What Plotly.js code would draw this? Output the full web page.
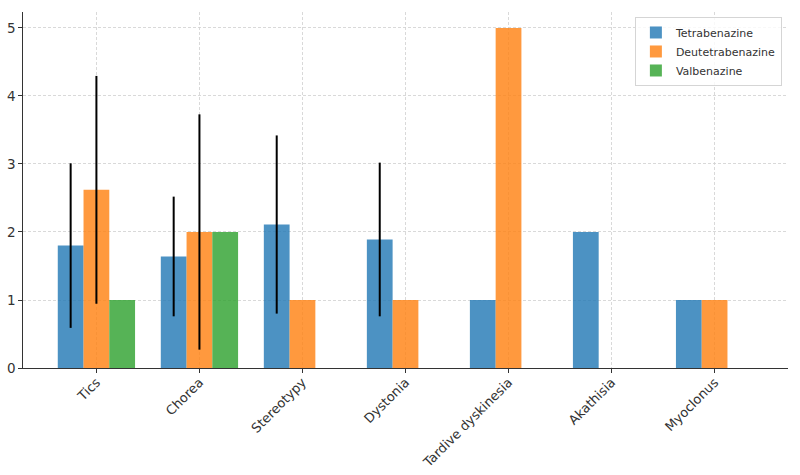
<!DOCTYPE html>
<html>
<head>
<meta charset="utf-8">
<script src="https://cdn.plot.ly/plotly-3.0.1.min.js"></script>
<style>html,body{margin:0;padding:0;background:#fff;}#chart{width:800px;height:475px;}</style>
</head>
<body>
<div id="chart"></div>
<script>
var categories = ["Tics", "Chorea", "Stereotypy", "Dystonia", "Tardive dyskinesia", "Akathisia", "Myoclonus"];
var tetrabenazine = [1.8, 1.64, 2.11, 1.89, 1, 2, 1];
var tetrabenazineErr = [1.21, 0.88, 1.31, 1.13, 0, 0, 0];
var deutetrabenazine = [2.62, 2, 1, 1, 5, 0, 1];
var deutetrabenazineErr = [1.675, 1.73, 0, 0, 0, 0, 0];
var valbenazine = [1, 2, 0, 0, 0, 0, 0];
var yTicks = [0, 1, 2, 3, 4, 5];

var errStyle = function(arr){
  return {type: 'data', array: arr, visible: true, color: '#000000', thickness: 2, width: 0};
};

var traces = [
  {type: 'bar', name: 'Tetrabenazine', x: categories, y: tetrabenazine,
   marker: {color: 'rgba(31,119,180,0.8)', line: {width: 0}}, error_y: errStyle(tetrabenazineErr)},
  {type: 'bar', name: 'Deutetrabenazine', x: categories, y: deutetrabenazine,
   marker: {color: 'rgba(255,127,14,0.8)', line: {width: 0}}, error_y: errStyle(deutetrabenazineErr)},
  {type: 'bar', name: 'Valbenazine', x: categories, y: valbenazine,
   marker: {color: 'rgba(44,160,44,0.8)', line: {width: 0}}}
];

var layout = {
  width: 800, height: 475,
  margin: {l: 23, r: 12, t: 12, b: 107},
  paper_bgcolor: '#ffffff', plot_bgcolor: '#ffffff',
  font: {family: 'DejaVu Sans', size: 13, color: '#000000'},
  barmode: 'group', bargap: 0.25, bargroupgap: 0,
  showlegend: true,
  legend: {x: 0.992, y: 0.986, xanchor: 'right', yanchor: 'top',
           bgcolor: 'rgba(255,255,255,0.8)', bordercolor: '#d5d5d5', borderwidth: 1,
           font: {size: 11, color: '#333333'}, traceorder: 'normal', itemwidth: 30,
           tracegroupgap: 0},
  xaxis: {
    type: 'category', range: [-0.7125, 6.7125],
    tickangle: -45, ticks: 'outside', ticklen: 3.5, tickcolor: '#333',
    ticklabelstandoff: -3,
    showline: true, linecolor: '#333333', linewidth: 1.2,
    showgrid: true, gridcolor: '#d0d0d0', gridwidth: 0.8, griddash: '3px,2px',
    tickfont: {size: 13, color: '#333333'}, zeroline: false
  },
  yaxis: {
    range: [0, 5.235], tickvals: yTicks, ticks: 'outside', ticklen: 3.5, tickcolor: '#333',
    showline: true, linecolor: '#333333', linewidth: 1.2,
    showgrid: true, gridcolor: '#d0d0d0', gridwidth: 0.8, griddash: '3px,2px',
    tickfont: {size: 13.5, color: '#333333'}, zeroline: false
  }
};

Plotly.newPlot('chart', traces, layout, {displayModeBar: false, staticPlot: true});
</script>
</body>
</html>
